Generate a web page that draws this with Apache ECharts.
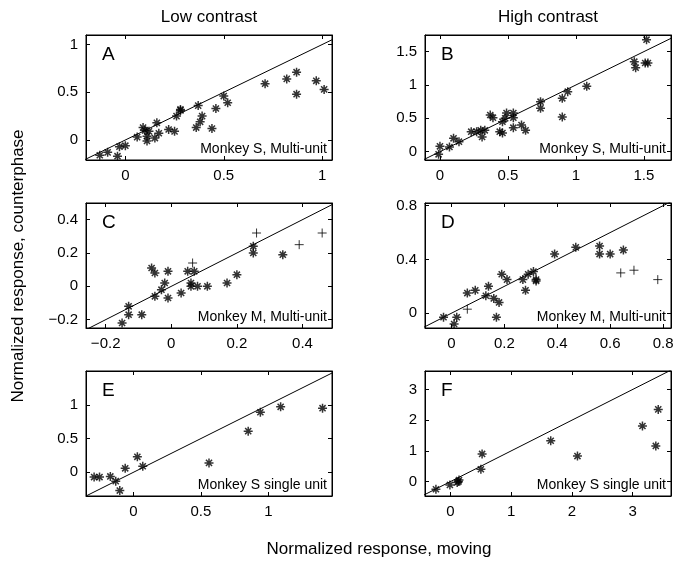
<!DOCTYPE html>
<html>
<head>
<meta charset="utf-8">
<script src="https://cdn.jsdelivr.net/npm/echarts@6/dist/echarts.min.js"></script>
<style>
  html, body { margin: 0; padding: 0; background: #fff; }
  #main { width: 697px; height: 566px; }
</style>
</head>
<body>
<div id="main"></div>
<script>
// 各面板数据点 [moving, counterphase]
const aStars = [[-0.13,-0.16],[-0.09,-0.13],[-0.04,-0.17],[-0.03,-0.07],[0.0,-0.06],[0.06,0.03],[0.09,0.13],[0.1,0.1],
  [0.11,0.04],[0.11,-0.01],[0.12,0.09],[0.16,0.18],[0.15,0.02],[0.17,0.07],[0.22,0.11],[0.25,0.09],[0.26,0.25],
  [0.28,0.31],[0.28,0.32],[0.37,0.36],[0.36,0.13],[0.38,0.19],[0.39,0.25],[0.44,0.12],[0.46,0.33],[0.5,0.46],
  [0.52,0.39],[0.71,0.59],[0.82,0.64],[0.87,0.71],[0.87,0.48],[0.97,0.62],[1.01,0.53]];
const bStars = [[0.0,0.08],[-0.01,-0.04],[0.07,0.07],[0.1,0.2],[0.14,0.15],[0.23,0.3],[0.27,0.3],[0.3,0.32],
  [0.31,0.22],[0.33,0.32],[0.37,0.55],[0.39,0.51],[0.44,0.3],[0.46,0.28],[0.46,0.45],[0.49,0.58],[0.48,0.5],
  [0.54,0.36],[0.54,0.58],[0.54,0.51],[0.6,0.4],[0.63,0.32],[0.74,0.75],[0.74,0.65],[0.9,0.8],[0.9,0.52],
  [0.94,0.9],[1.08,0.98],[1.43,1.35],[1.44,1.26],[1.51,1.33],[1.53,1.33],[1.52,1.68]];
const cStars = [[-0.15,-0.22],[-0.13,-0.12],[-0.13,-0.17],[-0.09,-0.17],[-0.06,0.11],[-0.05,0.08],[-0.05,-0.06],
  [-0.03,-0.02],[-0.02,0.02],[-0.01,-0.07],[-0.01,0.09],[0.03,-0.04],[0.05,0.09],[0.06,0.02],[0.06,0.0],
  [0.07,0.09],[0.08,0.0],[0.11,0.0],[0.17,0.02],[0.2,0.07],[0.25,0.24],[0.25,0.2],[0.34,0.19]];
const cPlus = [[0.065,0.14],[0.26,0.32],[0.39,0.25],[0.46,0.32]];
const dStars = [[-0.03,-0.03],[0.01,-0.08],[0.02,-0.03],[0.06,0.15],[0.09,0.17],[0.13,0.13],[0.14,0.2],
  [0.16,0.11],[0.18,0.08],[0.17,-0.03],[0.19,0.29],[0.21,0.25],[0.27,0.25],[0.28,0.17],[0.29,0.29],
  [0.31,0.31],[0.32,0.25],[0.32,0.24],[0.39,0.44],[0.47,0.49],[0.56,0.5],[0.56,0.44],[0.6,0.44],[0.65,0.47]];
const dPlus = [[0.06,0.03],[0.64,0.3],[0.69,0.32],[0.78,0.25]];
const eStars = [[-0.29,-0.07],[-0.25,-0.07],[-0.17,-0.06],[-0.13,-0.13],[-0.1,-0.27],[-0.06,0.06],[0.03,0.23],
  [0.07,0.09],[0.56,0.14],[0.85,0.61],[0.94,0.89],[1.09,0.97],[1.4,0.95]];
const fStars = [[-0.24,-0.25],[-0.01,-0.11],[0.13,0.0],[0.14,0.05],[0.11,-0.03],[0.5,0.4],[0.52,0.9],
  [1.65,1.33],[2.09,0.83],[3.16,1.81],[3.38,1.16],[3.42,2.35]];

// 坐标范围与刻度
const aXRange = [-0.2, 1.05], aYRange = [-0.21, 1.1];
const bXRange = [-0.11, 1.7], bYRange = [-0.125, 1.75];
const cXRange = [-0.26, 0.49], cYRange = [-0.25, 0.5];
const dXRange = [-0.1, 0.83], dYRange = [-0.11, 0.82];
const eXRange = [-0.35, 1.47], eYRange = [-0.35, 1.5];
const fXRange = [-0.42, 3.63], fYRange = [-0.47, 3.6];
const aXTicks = [0, 0.5, 1], aYTicks = [0, 0.5, 1];
const bXTicks = [0, 0.5, 1, 1.5], bYTicks = [0, 0.5, 1, 1.5];
const cXTicks = [-0.2, 0, 0.2, 0.4], cYTicks = [-0.2, 0, 0.2, 0.4];
const dXTicks = [0, 0.2, 0.4, 0.6, 0.8], dYTicks = [0, 0.4, 0.8];
const eXTicks = [0, 0.5, 1], eYTicks = [0, 0.5, 1];
const fXTicks = [0, 1, 2, 3], fYTicks = [0, 1, 2, 3];

const colTitles = ['Low contrast', 'High contrast'];
const notes = ['Monkey S, Multi-unit', 'Monkey S, Multi-unit', 'Monkey M, Multi-unit',
  'Monkey M, Multi-unit', 'Monkey S single unit', 'Monkey S single unit'];
const letters = ['A', 'B', 'C', 'D', 'E', 'F'];

const panels = [
  { xr: aXRange, yr: aYRange, xt: aXTicks, yt: aYTicks, stars: aStars, plus: [] },
  { xr: bXRange, yr: bYRange, xt: bXTicks, yt: bYTicks, stars: bStars, plus: [] },
  { xr: cXRange, yr: cYRange, xt: cXTicks, yt: cYTicks, stars: cStars, plus: cPlus },
  { xr: dXRange, yr: dYRange, xt: dXTicks, yt: dYTicks, stars: dStars, plus: dPlus },
  { xr: eXRange, yr: eYRange, xt: eXTicks, yt: eYTicks, stars: eStars, plus: [] },
  { xr: fXRange, yr: fYRange, xt: fXTicks, yt: fYTicks, stars: fStars, plus: [] }
];

const colLeft = [86, 425], rowTop = [35, 203, 371];
const gw = 246, gh = 125;
const FONT = 'Liberation Sans';
const STAR = 'path://M5,0L5,10M0,5L10,5M1.6,1.6L8.4,8.4M1.6,8.4L8.4,1.6';
const PLUS = 'path://M5,0L5,10M0,5L10,5';

const fmt = v => String(v).replace('-', '\u2212');

const grids = [], xAxes = [], yAxes = [], series = [], graphics = [];

panels.forEach((p, i) => {
  const left = colLeft[i % 2], top = rowTop[Math.floor(i / 2)];
  grids.push({ left: left, top: top, width: gw, height: gh, show: true, borderColor: '#000', borderWidth: 1 });

  const tick = vals => ({ show: true, inside: true, length: 4, customValues: vals, lineStyle: { color: '#000', width: 1 } });
  const line = { show: true, onZero: false, lineStyle: { color: '#000', width: 1 } };
  const label = vals => ({ show: true, customValues: vals, formatter: fmt, color: '#000', fontSize: 15, fontFamily: FONT, margin: 8 });

  xAxes.push({ type: 'value', gridIndex: i, min: p.xr[0], max: p.xr[1], position: 'bottom',
    axisLine: line, axisTick: tick(p.xt), axisLabel: label(p.xt), splitLine: { show: false } });
  xAxes.push({ type: 'value', gridIndex: i, min: p.xr[0], max: p.xr[1], position: 'top',
    axisLine: line, axisTick: tick(p.xt), axisLabel: { show: false }, splitLine: { show: false } });
  yAxes.push({ type: 'value', gridIndex: i, min: p.yr[0], max: p.yr[1], position: 'left',
    axisLine: line, axisTick: tick(p.yt), axisLabel: label(p.yt), splitLine: { show: false } });
  yAxes.push({ type: 'value', gridIndex: i, min: p.yr[0], max: p.yr[1], position: 'right',
    axisLine: line, axisTick: tick(p.yt), axisLabel: { show: false }, splitLine: { show: false } });

  // y = x 参考线，两端取坐标范围
  const lo = Math.min(p.xr[0], p.yr[0]), hi = Math.max(p.xr[1], p.yr[1]);
  series.push({ type: 'line', xAxisIndex: 2 * i, yAxisIndex: 2 * i, data: [[lo, lo], [hi, hi]],
    symbol: 'none', clip: true, silent: true, lineStyle: { color: '#000', width: 1 } });
  series.push({ type: 'scatter', xAxisIndex: 2 * i, yAxisIndex: 2 * i, data: p.stars, symbol: STAR,
    symbolSize: 9, itemStyle: { color: '#000', borderColor: '#000', borderWidth: 1.5 } });
  if (p.plus.length) {
    series.push({ type: 'scatter', xAxisIndex: 2 * i, yAxisIndex: 2 * i, data: p.plus, symbol: PLUS,
      symbolSize: 9, itemStyle: { color: '#000', borderColor: '#000', borderWidth: 1 } });
  }

  graphics.push({ type: 'text', x: left + 16, y: top + 10,
    style: { text: letters[i], font: '19px "' + FONT + '"', fill: '#000' } });
  graphics.push({ type: 'text', x: left + gw - 5, y: top + gh - 4,
    style: { text: notes[i], font: '14px "' + FONT + '"', fill: '#000', textAlign: 'right', textVerticalAlign: 'bottom' } });
});

colTitles.forEach((t, c) => {
  graphics.push({ type: 'text', x: colLeft[c] + gw / 2, y: 17,
    style: { text: t, font: '17px "' + FONT + '"', fill: '#000', textAlign: 'center', textVerticalAlign: 'middle' } });
});
graphics.push({ type: 'text', x: 379, y: 549,
  style: { text: 'Normalized response, moving', font: '17px "' + FONT + '"', fill: '#000',
    textAlign: 'center', textVerticalAlign: 'middle' } });
graphics.push({ type: 'text', x: 18, y: 266, rotation: Math.PI / 2,
  style: { text: 'Normalized response, counterphase', font: '17px "' + FONT + '"', fill: '#000',
    textAlign: 'center', textVerticalAlign: 'middle' } });

const chart = echarts.init(document.getElementById('main'), null, { renderer: 'canvas' });
chart.setOption({
  animation: false,
  backgroundColor: '#fff',
  grid: grids,
  xAxis: xAxes,
  yAxis: yAxes,
  series: series,
  graphic: graphics
});
</script>
</body>
</html>
